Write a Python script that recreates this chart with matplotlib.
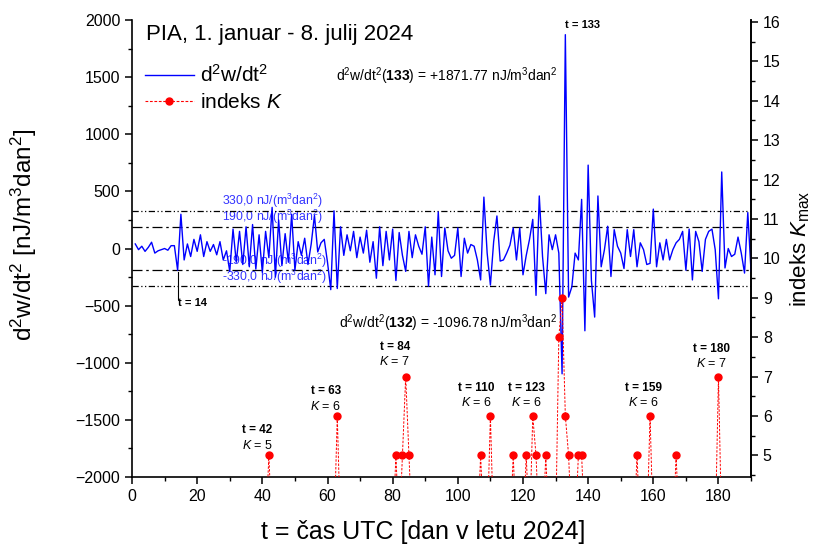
import numpy as np
import matplotlib
matplotlib.use("Agg")
import matplotlib.pyplot as plt
from matplotlib.lines import Line2D
from matplotlib.ticker import MultipleLocator

plt.rcParams["font.family"] = ["Liberation Sans", "DejaVu Sans"]
plt.rcParams["mathtext.fontset"] = "custom"
plt.rcParams["mathtext.rm"] = "Liberation Sans"
plt.rcParams["mathtext.it"] = "Liberation Sans:italic"
plt.rcParams["mathtext.bf"] = "Liberation Sans:bold"

# day of year 2024 (1. jan .. 8. jul)
days = np.arange(1, 191)

# d2w/dt2 [nJ/m^3 dan^2]
dw = [40, -10, 20, -25, 10, 55, -40, -20, -10, 0,
      -15, 25, 25, -190, 300, -100, 40, -70, 80, -25,
      120, -70, 60, -25, 35, -55, 60, -100, -20, -200,
      170, -120, 150, -140, 190, -160, 210, -180, 120, -210,
      150, -80, 360, -250, 250, -150, 130, -120, 300, -190,
      60, -60, 90, -140, 40, 290, -30, 50, 80, -120,
      -360, 330, -350, 190, -60, 120, -20, 150, -80, 100,
      -40, 160, -120, 60, -260, 190, -150, 150, -100, 170,
      -280, 140, -60, -200, 150, -80, 120, 20, -50, 190,
      -330, 100, -230, 320, -245, 180, -20, -85, -60, 180,
      -245, 90, -40, 35, 20, -100, -275, 450, -40, -320,
      60, 285, -110, -100, -40, 30, 180, -100, 180, -230,
      -60, 80, 255, -410, 460, -70, -395, 120, -10, 120,
      -40, -1096.78, 1871.77, -425, -335, -40, -100, 430, -720, 730,
      -280, -600, 460, -160, -10, 195, -245, 165, 20, -40,
      -175, 165, -70, 165, -160, 50, -10, -140, -130, 345,
      -160, 50, -100, 80, -100, -10, 50, 80, 150, -190,
      170, -275, 150, 60, -200, 80, 150, 170, -10, -440,
      670, -170, 0, -70, -50, 100, -40, -215, 315, -200]

# daily K max (values below 5 fall under the axis)
kmax = [2, 3, 3, 2, 3, 3, 4, 3, 2, 3,
        3, 3, 2, 3, 4, 3, 3, 2, 3, 3,
        3, 2, 3, 3, 4, 3, 3, 3, 2, 3,
        3, 3, 4, 3, 2, 3, 3, 3, 4, 3,
        3, 5, 3, 2, 3, 3, 4, 3, 3, 2,
        3, 3, 3, 4, 3, 3, 2, 3, 3, 4,
        3, 3, 6, 3, 3, 2, 3, 3, 4, 3,
        3, 3, 2, 3, 3, 4, 3, 3, 3, 3,
        5, 3, 5, 7, 5, 3, 3, 2, 3, 3,
        3, 4, 3, 3, 2, 3, 3, 4, 3, 3,
        3, 3, 2, 3, 3, 3, 5, 3, 3, 6,
        3, 3, 4, 3, 3, 3, 5, 3, 3, 3,
        5, 3, 6, 5, 3, 3, 5, 3, 3, 3,
        8, 9, 6, 5, 3, 3, 5, 5, 3, 3,
        3, 4, 3, 3, 3, 2, 3, 3, 4, 3,
        3, 3, 3, 3, 5, 3, 3, 3, 6, 3,
        3, 3, 4, 3, 3, 3, 5, 3, 3, 3,
        3, 2, 3, 3, 4, 3, 3, 3, 3, 7,
        3, 3, 3, 2, 3, 3, 4, 3, 3, 3]

thresholds = [330.0, 190.0, -190.0, -330.0]
thr_labels = ["330,0", "190,0", "-190,0", "-330,0"]
thr_styles = [(0, (5, 2, 1, 2, 1, 2)), (0, (8, 3, 2, 3)), (0, (8, 3, 2, 3)), (0, (5, 2, 1, 2, 1, 2))]

# annotated K events: day, K, label x, label y (K units)
ev_day = [42, 63, 84, 110, 123, 159, 180]
ev_k = [5, 6, 7, 6, 6, 6, 7]
ev_tx = [38.5, 59.5, 80.7, 105.8, 121.0, 156.9, 178.0]
ev_ty = [5.64, 6.63, 7.76, 6.72, 6.72, 6.72, 7.71]

RED_DASH = (0, (2.5, 1.5))

fig = plt.figure(figsize=(8.21, 5.5), dpi=100)
ax = fig.add_axes([0.1608, 0.1327, 0.754, 0.8309])
ax2 = ax.twinx()

ax.plot(days, dw, color="#0000ff", lw=1.0, zorder=3)
for v, lab, ls in zip(thresholds, thr_labels, thr_styles):
    ax.axhline(v, color="black", lw=0.9, ls=ls, zorder=2)
    ax.text(27.5, v + 5, lab + " nJ/(m$^3$dan$^2$)", color="#3333ff", fontsize=8.8,
            ha="left", va="bottom", zorder=1)

ax.plot([14, 14], [-205, -440], color="black", lw=0.8)
ax.text(14, -480, "t = 14", fontsize=8, fontweight="bold", ha="left", va="center")
ax.text(133, 1960, "t = 133", fontsize=8, fontweight="bold", ha="left", va="center")
ax.text(130.5, 1510, r"d$^2$w/dt$^2$($\mathbf{133}$) = +1871.77 nJ/m$^3$dan$^2$",
        fontsize=10, ha="right", va="center")
ax.text(130.5, -650, r"d$^2$w/dt$^2$($\mathbf{132}$) = -1096.78 nJ/m$^3$dan$^2$",
        fontsize=10, ha="right", va="center")

ax2.plot(days, kmax, color="red", lw=0.7, ls=RED_DASH, marker="o", ms=5,
         markevery=[i for i, k in enumerate(kmax) if k >= 5], zorder=4)
for d, k, tx, ty in zip(ev_day, ev_k, ev_tx, ev_ty):
    ax2.text(tx, ty, "t = %d" % d, fontsize=8.5, fontweight="bold", ha="center", va="center")
    ax2.text(tx, ty - 0.39, "$K$ = %d" % k, fontsize=9, ha="center", va="center")

ax.set_xlim(0, 190)
ax.set_ylim(-2000, 2000)
ax2.set_ylim(4.45, 16.05)
ax.xaxis.set_major_locator(MultipleLocator(20))
ax.xaxis.set_minor_locator(MultipleLocator(10))
ax.yaxis.set_major_locator(MultipleLocator(500))
ax.yaxis.set_minor_locator(MultipleLocator(250))
ax2.yaxis.set_major_locator(MultipleLocator(1))
ax2.yaxis.set_minor_locator(MultipleLocator(0.5))
for a in (ax, ax2):
    a.spines["top"].set_visible(False)
    for s in a.spines.values():
        s.set_linewidth(1.2)
    a.tick_params(which="major", length=5, width=1.1, labelsize=11.5)
    a.tick_params(which="minor", length=3, width=1.0)
ax2.spines["left"].set_visible(False)
ax2.spines["bottom"].set_visible(False)

ax.set_xlabel("t = čas UTC [dan v letu 2024]", fontsize=18)
ax.xaxis.set_label_coords(0.47, -0.095)
ax.set_ylabel(r"d$^2$w/dt$^2$ [nJ/m$^3$dan$^2$]", fontsize=17.5)
ax.yaxis.set_label_coords(-0.15, 0.53)
ax2.set_ylabel(r"indeks $K_{\rm max}$", fontsize=16)
ax2.yaxis.set_label_coords(1.06, 0.5)

ax.text(0.023, 0.968, "PIA, 1. januar - 8. julij 2024", transform=ax.transAxes,
        fontsize=16, ha="left", va="center")
handles = [Line2D([], [], color="#0000ff", lw=1.0),
           Line2D([], [], color="red", lw=0.8, ls=RED_DASH, marker="o", ms=5,
                  markerfacecolor="red", markeredgecolor="red")]
ax.legend(handles, [r"d$^2$w/dt$^2$", r"indeks $K$"], loc="upper left",
          bbox_to_anchor=(0.007, 0.922), frameon=False, fontsize=15,
          handlelength=2.35, handletextpad=0.3, labelspacing=0.35, borderaxespad=0)

fig.savefig("out.png", dpi=100)
